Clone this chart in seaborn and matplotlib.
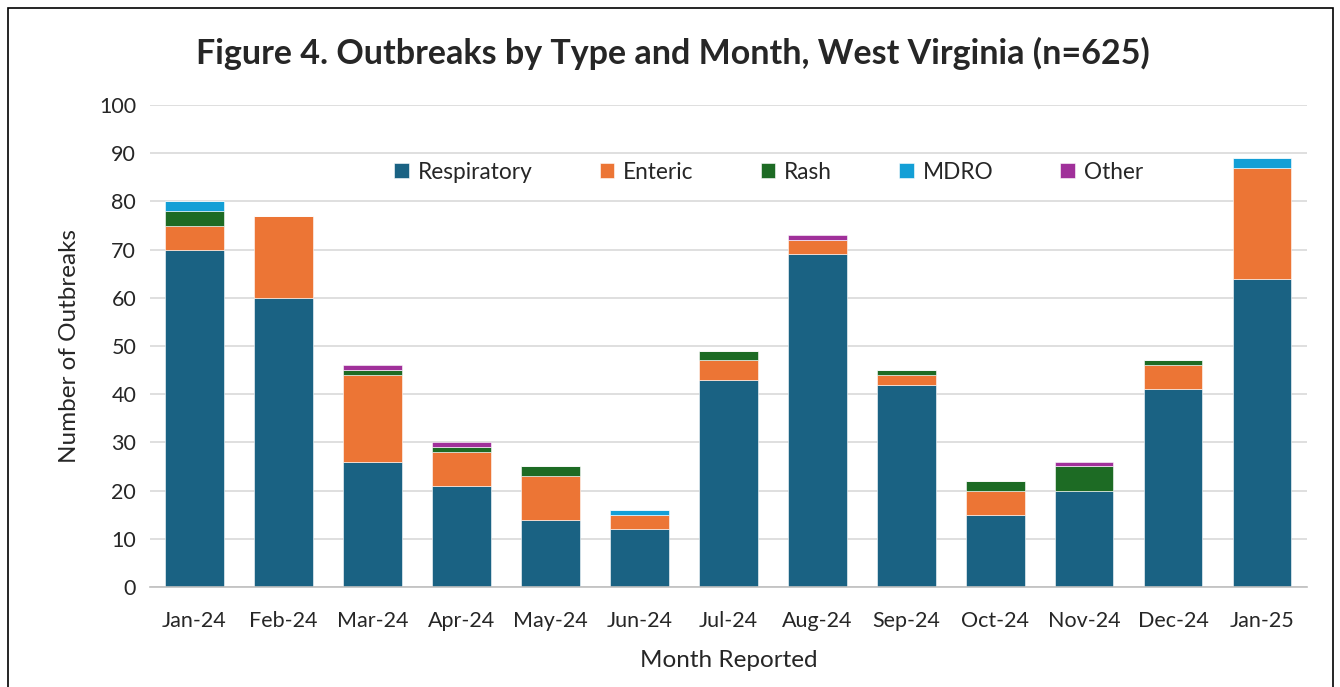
import seaborn as sns
import pandas as pd
import matplotlib.pyplot as plt
from matplotlib.patches import Rectangle

months = ['Jan-24', 'Feb-24', 'Mar-24', 'Apr-24', 'May-24', 'Jun-24', 'Jul-24',
          'Aug-24', 'Sep-24', 'Oct-24', 'Nov-24', 'Dec-24', 'Jan-25']
respiratory = [70, 60, 26, 21, 14, 12, 43, 69, 42, 15, 20, 41, 64]
enteric = [5, 17, 18, 7, 9, 3, 4, 3, 2, 5, 0, 5, 23]
rash = [3, 0, 1, 1, 2, 0, 2, 0, 1, 2, 5, 1, 0]
mdro = [2, 0, 0, 0, 0, 1, 0, 0, 0, 0, 0, 0, 2]
other = [0, 0, 1, 1, 0, 0, 0, 1, 0, 0, 1, 0, 0]

series = {'Respiratory': respiratory, 'Enteric': enteric, 'Rash': rash,
          'MDRO': mdro, 'Other': other}
colors = {'Respiratory': '#1a6283', 'Enteric': '#ec7535', 'Rash': '#1d6b24',
          'MDRO': '#139fd6', 'Other': '#a0309a'}

sns.set_style('white')
plt.rcParams['font.family'] = ['Lato', 'DejaVu Sans']

fig = plt.figure(figsize=(13.4, 6.87), dpi=100)
ax = fig.add_axes([0.112, 0.1456, 0.863, 0.7015])

bottom = [0] * len(months)
for name, vals in series.items():
    df = pd.DataFrame({'Month': months, 'Count': vals})
    sns.barplot(data=df, x='Month', y='Count', bottom=bottom, color=colors[name],
                saturation=1, width=0.66, label=name, ax=ax,
                edgecolor='white', linewidth=0.4)
    bottom = [b + v for b, v in zip(bottom, vals)]

ax.set_ylim(0, 100)
ax.set_xlim(-0.5, len(months) - 0.5)
ax.set_yticks(range(0, 101, 10))
ax.yaxis.grid(True, color='#d9d9d9', linewidth=1.2)
ax.set_axisbelow(True)
for s in ['top', 'right', 'left']:
    ax.spines[s].set_visible(False)
ax.spines['bottom'].set_color('#bfbfbf')
ax.spines['bottom'].set_linewidth(1.2)

ax.set_xticks([i + 0.5 for i in range(-1, len(months))], minor=True)
ax.tick_params(axis='x', which='minor', length=6, color='#bfbfbf', width=1.2)
ax.tick_params(axis='x', which='major', length=0, labelsize=15.5, pad=17)
ax.tick_params(axis='y', length=0, labelsize=15.5, pad=10)

ax.set_xlabel('Month Reported', fontsize=17.5, labelpad=14)
ax.set_ylabel('Number of Outbreaks', fontsize=17.5, labelpad=14)

fig.suptitle('Figure 4. Outbreaks by Type and Month, West Virginia (n=625)',
             fontsize=24.5, fontweight='bold', x=0.502, y=0.922, va='center')

ax.legend(loc='upper center', bbox_to_anchor=(0.535, 0.925), ncol=5, frameon=False,
          fontsize=16.3, handlelength=0.65, handleheight=0.65, columnspacing=2.95,
          handletextpad=0.4)

fig.patches.append(Rectangle((8 / 1340, -0.02), 1325 / 1340, 1.02 - 8 / 687,
                             transform=fig.transFigure, fill=False,
                             edgecolor='black', linewidth=1.2))

plt.savefig('out.png', dpi=100)
